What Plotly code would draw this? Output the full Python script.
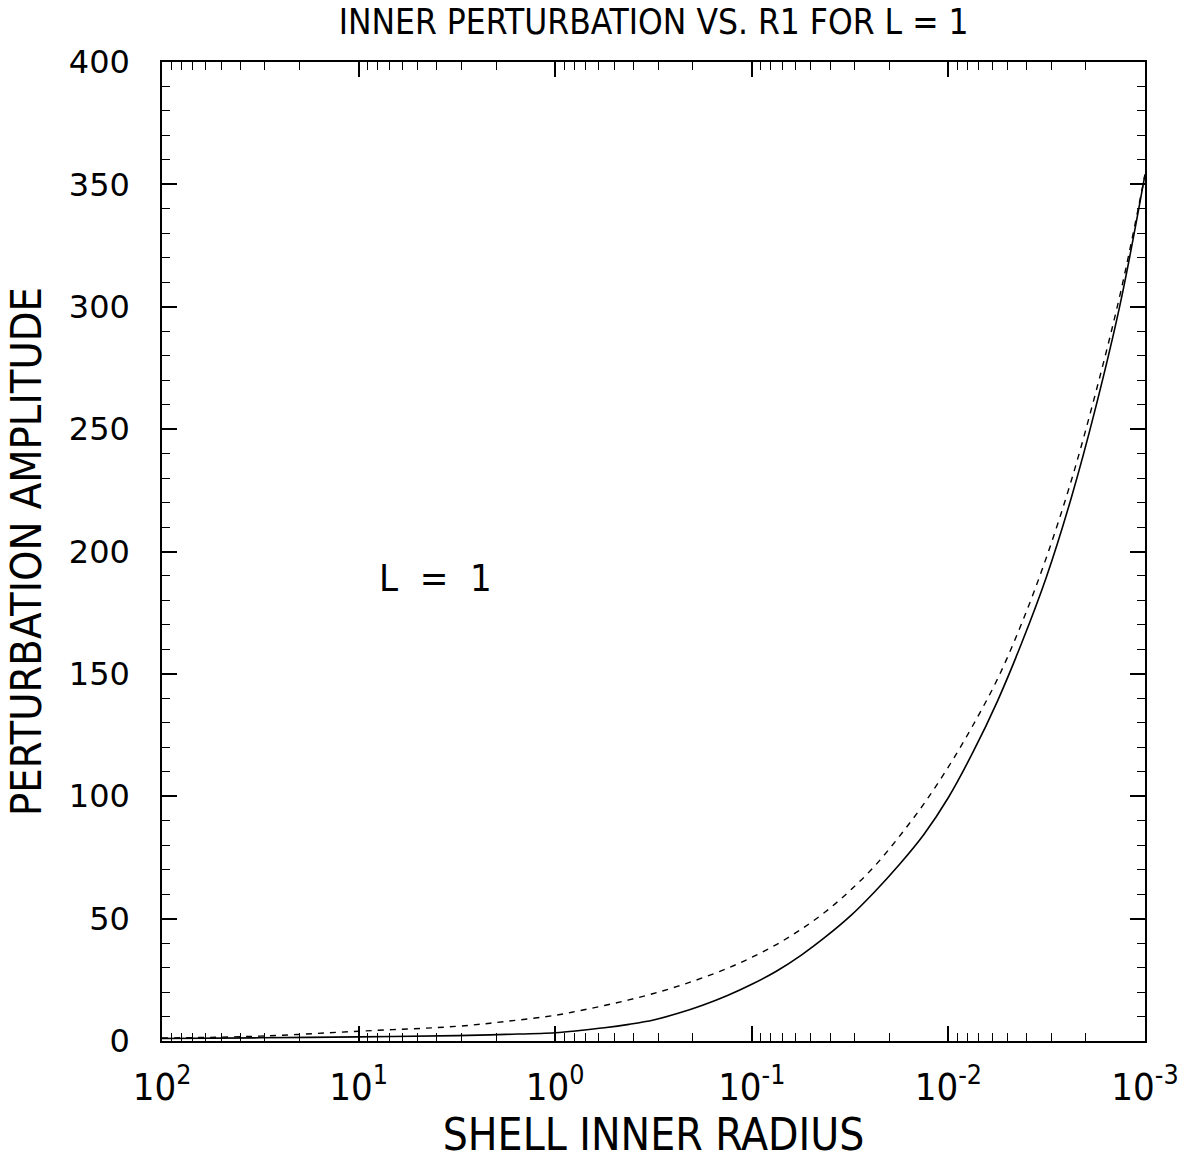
import plotly.graph_objects as go

# Shell inner radius (x) sample points
radius = [100, 31.6, 10, 3.16, 1.78, 1, 0.750, 0.562, 0.422, 0.316, 0.237, 0.178,
          0.133, 0.1, 0.0750, 0.0562, 0.0422, 0.0316, 0.0237, 0.0178, 0.0133,
          0.01, 0.00750, 0.00562, 0.00422, 0.00316, 0.00237, 0.00178, 0.00133, 0.001]
# Solid curve
amp_solid = [1.0, 1.3, 1.7, 2.2, 2.7, 3.4, 4.3, 5.4, 6.8, 8.6, 11.3, 14.6,
             18.6, 23.2, 28.5, 35.0, 42.5, 51.0, 61.0, 72.0, 84.5,
             99.5, 118, 139, 163, 190, 222, 259, 302, 354]
# Dashed curve
amp_dashed = [1.2, 2.0, 4.0, 6.0, 8.0, 10.5, 12.4, 14.5, 16.8, 19.4, 22.4, 25.8,
              29.7, 34.2, 39.4, 45.6, 52.8, 61.5, 71.5, 83.5, 97,
              112, 129, 148, 171, 198, 229, 265, 306, 354]

x_tickvals = [100, 10, 1, 0.1, 0.01, 0.001]
x_ticktext = ["10<sup>2</sup>", "10<sup>1</sup>", "10<sup>0</sup>",
              "10<sup>-1</sup>", "10<sup>-2</sup>", "10<sup>-3</sup>"]
y_tickvals = [0, 50, 100, 150, 200, 250, 300, 350, 400]

fig = go.Figure()
fig.add_trace(go.Scatter(x=radius, y=amp_solid, mode="lines",
                         line=dict(color="black", width=1.6, shape="spline", smoothing=1.0),
                         showlegend=False))
fig.add_trace(go.Scatter(x=radius, y=amp_dashed, mode="lines",
                         line=dict(color="black", width=1.4, dash="6px,6px", shape="spline", smoothing=1.0),
                         showlegend=False))

cond = "DejaVu Sans Condensed, DejaVu Sans, sans-serif"
ytickfont = dict(family="DejaVu Sans, Roboto, sans-serif", size=32, color="black")
xtickfont = dict(family=cond, size=38, color="black")

fig.update_layout(
    width=1196, height=1168,
    margin=dict(l=162, r=51, t=62, b=127),
    paper_bgcolor="white", plot_bgcolor="white",
    title=dict(text="INNER PERTURBATION VS. R1 FOR L = 1",
               font=dict(family=cond, size=35, color="black"),
               x=0.5465, xanchor="center", y=0.981, yanchor="middle"),
    xaxis=dict(type="log", range=[2, -3], tickvals=x_tickvals, ticktext=x_ticktext,
               tickfont=xtickfont, ticks="inside", ticklen=15, tickwidth=1.5,
               tickcolor="black", showline=True, linecolor="black", linewidth=1.5,
               mirror="ticks", showgrid=False, zeroline=False, automargin=False,
               ticklabelstandoff=12,
               minor=dict(ticks="inside", ticklen=8, tickwidth=1.2, tickcolor="black",
                          dtick="D1", showgrid=False),
               title=dict(text="SHELL INNER RADIUS", font=dict(family=cond, size=44, color="black"),
                          standoff=8)),
    yaxis=dict(range=[0, 400], tickvals=y_tickvals, tickfont=ytickfont,
               ticks="inside", ticklen=15, tickwidth=1.5, tickcolor="black",
               showline=True, linecolor="black", linewidth=1.5, mirror="ticks",
               showgrid=False, zeroline=False, ticklabelstandoff=24, automargin=False,
               minor=dict(ticks="inside", ticklen=8, tickwidth=1.2, tickcolor="black",
                          dtick=10, showgrid=False),
               title=dict(text="PERTURBATION AMPLITUDE", font=dict(family=cond, size=43, color="black"),
                          standoff=14)),
    annotations=[dict(text="L  =  1", x=0.278, y=0.473, xref="paper", yref="paper",
                      showarrow=False, xanchor="center", yanchor="middle",
                      font=dict(family=cond, size=38, color="black"))],
)

fig.write_html("out.html")
